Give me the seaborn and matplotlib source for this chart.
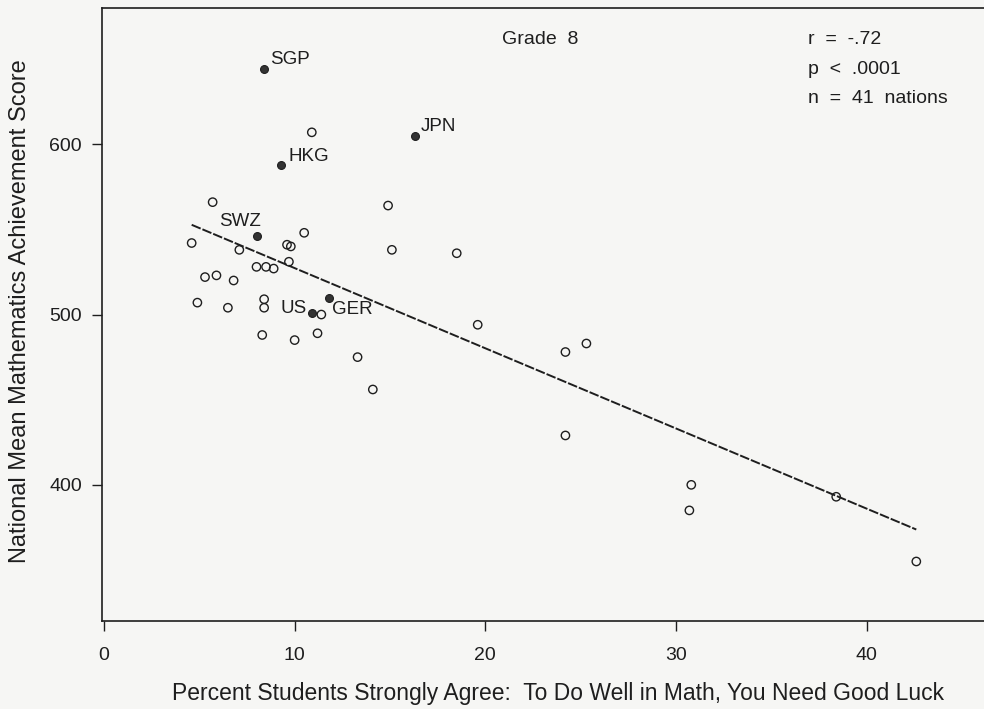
import matplotlib
matplotlib.use("Agg")
import matplotlib.pyplot as plt
import seaborn as sns
import pandas as pd

# % students strongly agreeing "you need good luck" vs. mean math score, grade 8
luck_pct = [8.4, 9.3, 16.3, 8.0, 10.9, 11.8,
            5.7, 4.6, 7.1, 9.6, 9.8, 10.5, 9.7, 8.0, 8.5, 8.9, 5.3, 5.9,
            6.8, 4.9, 6.5, 8.4, 8.4, 11.4, 8.3, 10.0, 11.2, 13.3, 10.9,
            14.9, 15.1, 18.5, 19.6, 24.2, 25.3, 14.1, 24.2, 30.8, 30.7,
            38.4, 42.6]
math_score = [644, 588, 605, 546, 501, 510,
              566, 542, 538, 541, 540, 548, 531, 528, 528, 527, 522, 523,
              520, 507, 504, 509, 504, 500, 488, 485, 489, 475, 607,
              564, 538, 536, 494, 478, 483, 456, 429, 400, 385,
              393, 355]
country = ["SGP", "HKG", "JPN", "SWZ", "US", "GER"] + [""] * 35

df = pd.DataFrame({"luck": luck_pct, "score": math_score, "country": country})
labelled = df[df["country"] != ""]
others = df[df["country"] == ""]

sns.set_style("ticks")
plt.rcParams["font.family"] = ["Liberation Sans", "DejaVu Sans"]
ink = "#1e1e1e"
paper = "#f6f6f4"

fig = plt.figure(figsize=(9.84, 7.09), dpi=100, facecolor=paper)
ax = fig.add_axes([0.1037, 0.124, 0.8963, 0.8647])
ax.set_facecolor(paper)

sns.regplot(data=df, x="luck", y="score", scatter=False, ci=None, ax=ax,
            line_kws={"color": ink, "lw": 1.4, "dashes": (5, 1)})
sns.scatterplot(data=others, x="luck", y="score", ax=ax, s=36, marker="o",
                facecolor="none", edgecolor=ink, linewidth=1.0)
sns.scatterplot(data=labelled, x="luck", y="score", ax=ax, s=32, marker="o",
                color="#333333", edgecolor=ink, linewidth=0.8)

# label offsets in pixels
offsets = {"SGP": (6, 10, "left"), "HKG": (7, 8, "left"), "JPN": (6, 9, "left"),
           "SWZ": (-16, 15, "center"), "US": (-5, 4, "right"), "GER": (3, -12, "left")}
for _, row in labelled.iterrows():
    dx, dy, ha = offsets[row["country"]]
    ax.annotate(row["country"], (row["luck"], row["score"]), xytext=(dx, dy),
                textcoords="offset pixels", ha=ha, va="center",
                fontsize=13.5, color=ink)

ax.text(0.4966, 0.948, "Grade  8", transform=ax.transAxes, ha="center",
        va="center", fontsize=14, color=ink)
stats = ["r  =  -.72", "p  <  .0001", "n  =  41  nations"]
for i, s in enumerate(stats):
    ax.text(0.8005, 0.948 - i * 0.0475, s, transform=ax.transAxes,
            ha="left", va="center", fontsize=14, color=ink)

ax.set_xlim(-0.1, 46.15)
ax.set_ylim(320, 680)
ax.set_xticks([0, 10, 20, 30, 40])
ax.set_yticks([400, 500, 600])
ax.tick_params(direction="out", length=7.5, width=1, colors=ink, labelsize=14)
ax.tick_params(axis="x", pad=11.5)
ax.tick_params(axis="y", pad=7)
for side in ["left", "bottom", "top"]:
    ax.spines[side].set_color(ink)
    ax.spines[side].set_linewidth(1.2)
ax.spines["right"].set_visible(False)

ax.set_xlabel("Percent Students Strongly Agree:  To Do Well in Math, You Need Good Luck",
              fontsize=16.5, color=ink)
ax.set_ylabel("National Mean Mathematics Achievement Score",
              fontsize=17, color=ink)
ax.xaxis.set_label_coords(0.517, -0.0995)
ax.yaxis.set_label_coords(-0.081, 0.505)

fig.savefig("out.png", dpi=100, facecolor=fig.get_facecolor())
